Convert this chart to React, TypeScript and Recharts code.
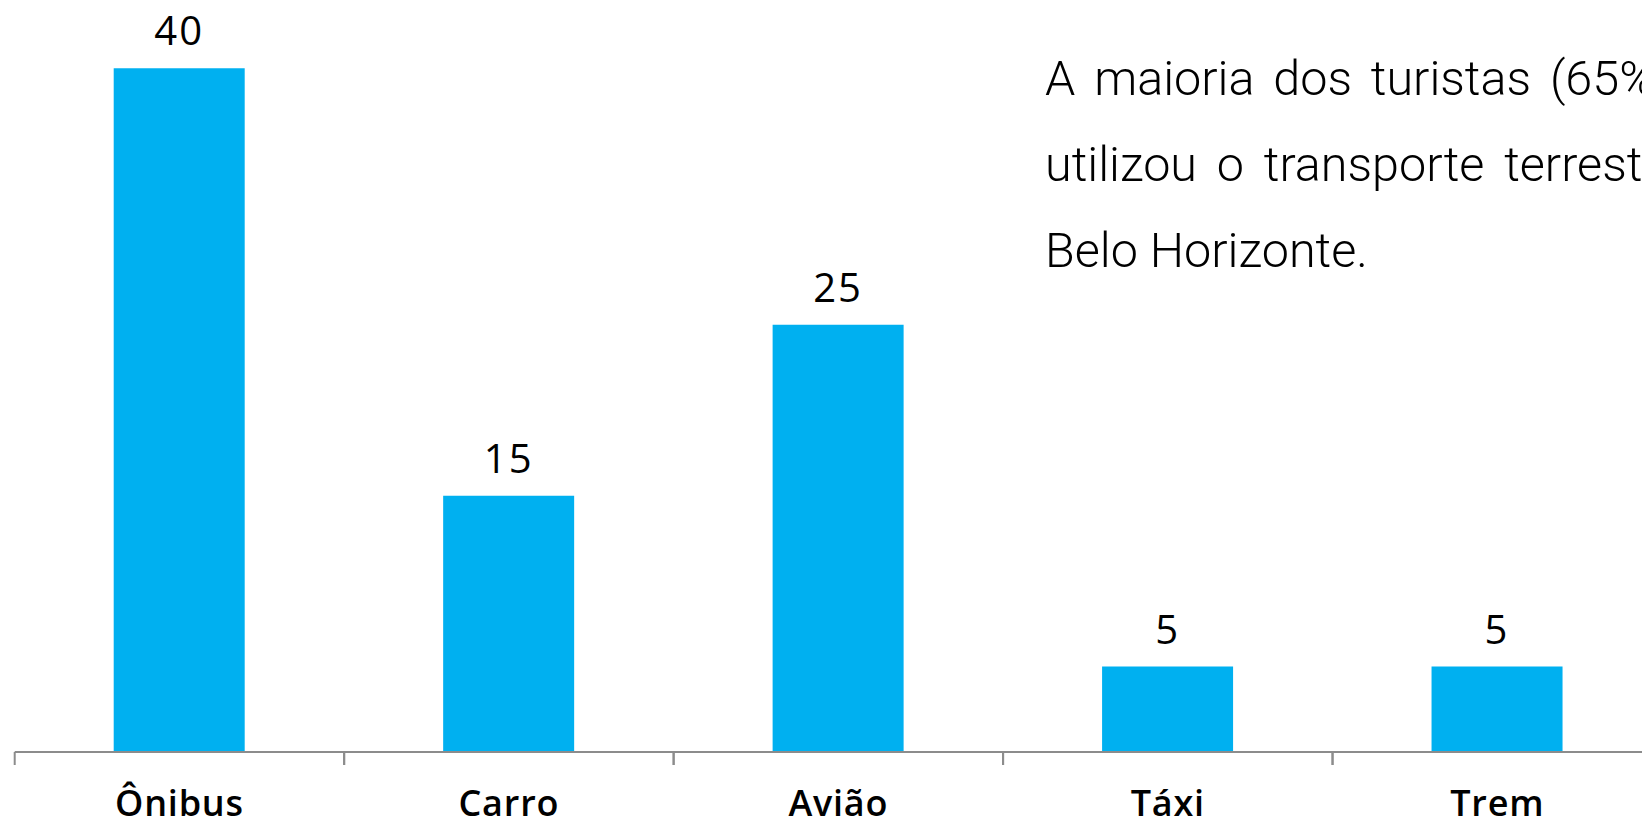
import { BarChart, Bar, XAxis, YAxis, LabelList } from "recharts";

const categories = ["Ônibus", "Carro", "Avião", "Táxi", "Trem"];
const values = [40, 15, 25, 5, 5];
const noteLines = [
  "A maioria dos turistas (65%)",
  "utilizou o transporte terrestre",
  "Belo Horizonte.",
];

const data = categories.map((name, i) => ({ name, value: values[i] }));

const W = 1680;
const H = 826;
const LEFT = 14.7;
const RIGHT = 18;
const bandWidth = (W - LEFT - RIGHT) / categories.length;

function CategoryTick(props: any) {
  const { x, y, payload } = props;
  const half = payload.offset || bandWidth / 2;
  return (
    <g>
      <line x1={x - half} x2={x - half} y1={y} y2={y + 13} stroke="#8c8c8c" strokeWidth={2} />
      <line x1={x + half} x2={x + half} y1={y} y2={y + 13} stroke="#8c8c8c" strokeWidth={2} />
      <text
        x={x}
        y={y + 64}
        textAnchor="middle"
        fill="#000"
        fontSize={36}
        fontWeight={600}
        letterSpacing={0.8}
        fontFamily="'Open Sans', 'DejaVu Sans', sans-serif"
      >
        {payload.value}
      </text>
    </g>
  );
}

export default function App() {
  return (
    <div
      style={{
        position: "fixed",
        left: 0,
        top: 0,
        width: 1642,
        height: 826,
        overflow: "hidden",
        background: "#fff",
      }}
    >
      <BarChart
        width={W}
        height={H}
        data={data}
        margin={{ top: 0, right: RIGHT, bottom: 0, left: LEFT }}
      >
        <XAxis
          dataKey="name"
          height={74}
          tickLine={false}
          tickSize={0}
          tickMargin={0}
          axisLine={{ stroke: "#8c8c8c", strokeWidth: 2 }}
          tick={<CategoryTick />}
          interval={0}
        />
        <YAxis hide domain={[0, 44]} />
        <Bar dataKey="value" fill="#00b0f0" barSize={131} isAnimationActive={false}>
          <LabelList
            dataKey="value"
            position="top"
            offset={23}
            fill="#000"
            fontSize={40}
            letterSpacing={2}
            fontFamily="'Open Sans', 'DejaVu Sans', sans-serif"
          />
        </Bar>
      </BarChart>
      <svg
        width={1642}
        height={826}
        style={{ position: "absolute", left: 0, top: 0, pointerEvents: "none" }}
      >
        {noteLines.map((line, i) => (
          <text
            key={line}
            x={1045}
            y={95 + i * 86}
            fontSize={48.5}
            fontWeight={300}
            wordSpacing={i === 0 ? 7 : i === 1 ? 8 : 0}
            fill="#000"
            fontFamily="Roboto, 'DejaVu Sans', sans-serif"
          >
            {line}
          </text>
        ))}
      </svg>
    </div>
  );
}
